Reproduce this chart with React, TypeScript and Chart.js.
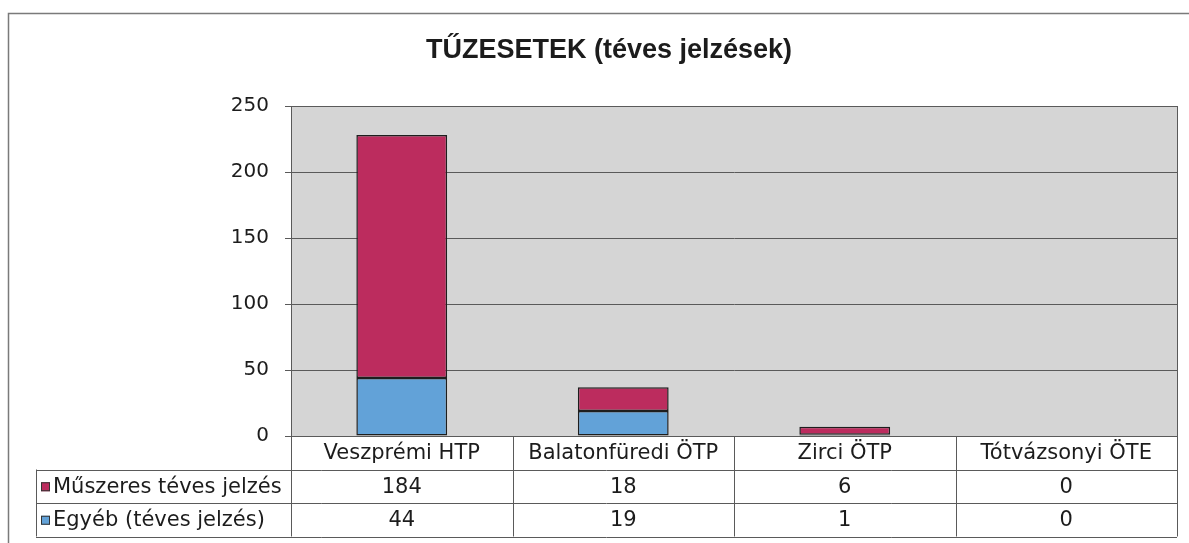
import React, { useEffect, useRef } from "react";
import { Chart, registerables } from "chart.js";

Chart.register(...registerables);

const categories = ["Veszprémi HTP", "Balatonfüredi ÖTP", "Zirci ÖTP", "Tótvázsonyi ÖTE"];
const muszeres = [184, 18, 6, 0];
const egyeb = [44, 19, 1, 0];
const seriesNames = ["Műszeres téves jelzés", "Egyéb (téves jelzés)"];
const yTicks = [0, 50, 100, 150, 200, 250];
const titleText = "TŰZESETEK (téves jelzések)";

const RED = "#BC2C5E";
const BLUE = "#62A2D8";
const EDGE = "#1e1e1e";
const LINE = "#5a5a5a";
const TEXT = "#1c1c1c";
const FONT = "DejaVu Sans";

export default function App() {
  const ref = useRef<HTMLCanvasElement | null>(null);

  useEffect(() => {
    document.body.style.margin = "0";
    const canvas = ref.current;
    if (!canvas) return;

    const framePlugin = {
      id: "frame",
      beforeDraw(chart: any) {
        const { ctx, chartArea: a } = chart;
        ctx.save();
        ctx.fillStyle = "#ffffff";
        ctx.fillRect(0, 0, chart.width, chart.height);
        ctx.fillStyle = "#d5d5d5";
        ctx.fillRect(a.left, a.top, a.right - a.left, a.bottom - a.top);
        ctx.restore();
      },
      afterDraw(chart: any) {
        const { ctx, chartArea: a } = chart;
        ctx.save();
        // outer border (top and left visible)
        ctx.strokeStyle = "#7a7a7a";
        ctx.lineWidth = 1.5;
        ctx.beginPath();
        ctx.moveTo(8.5, 543);
        ctx.lineTo(8.5, 13.5);
        ctx.lineTo(1189, 13.5);
        ctx.stroke();
        // plot border
        ctx.strokeStyle = LINE;
        ctx.lineWidth = 1;
        ctx.strokeRect(a.left + 0.5, a.top + 0.5, a.right - a.left, a.bottom - a.top);

        // title
        ctx.fillStyle = TEXT;
        ctx.font = `bold 27px "Liberation Sans"`;
        ctx.textAlign = "center";
        ctx.textBaseline = "middle";
        ctx.fillText(titleText, 609, 51);

        // data table
        const n = categories.length;
        const w = (a.right - a.left) / n;
        const rowH = 33.5;
        const rows = [a.bottom, a.bottom + rowH, a.bottom + 2 * rowH, a.bottom + 3 * rowH];
        const legendLeft = 36;
        ctx.strokeStyle = LINE;
        ctx.lineWidth = 1;
        ctx.beginPath();
        for (let r = 1; r < rows.length; r++) {
          const y = Math.round(rows[r]) + 0.5;
          ctx.moveTo(legendLeft, y);
          ctx.lineTo(a.right, y);
        }
        for (let i = 0; i <= n; i++) {
          const x = Math.round(a.left + i * w) + 0.5;
          ctx.moveTo(x, rows[0]);
          ctx.lineTo(x, rows[3]);
        }
        ctx.moveTo(legendLeft + 0.5, rows[1]);
        ctx.lineTo(legendLeft + 0.5, rows[3]);
        ctx.stroke();

        ctx.font = `21px "${FONT}"`;
        ctx.fillStyle = TEXT;
        ctx.textAlign = "center";
        ctx.textBaseline = "middle";
        const xs = chart.scales.x;
        for (let i = 0; i < n; i++) {
          const cx = xs.getPixelForValue(i);
          ctx.fillText(categories[i], cx, (rows[0] + rows[1]) / 2 + 1);
          ctx.fillText(String(muszeres[i]), cx, (rows[1] + rows[2]) / 2 + 1);
          ctx.fillText(String(egyeb[i]), cx, (rows[2] + rows[3]) / 2 + 1);
        }
        const colors = [RED, BLUE];
        ctx.textAlign = "left";
        for (let s = 0; s < 2; s++) {
          const cy = (rows[s + 1] + rows[s + 2]) / 2;
          ctx.fillStyle = colors[s];
          ctx.fillRect(41, cy - 4, 9, 9);
          ctx.strokeStyle = "#333";
          ctx.strokeRect(41.5, cy - 3.5, 8, 8);
          ctx.fillStyle = TEXT;
          ctx.fillText(seriesNames[s], 53, cy + 1);
        }
        ctx.restore();
      },
    };

    const chart = new Chart(canvas, {
      type: "bar",
      data: {
        labels: categories,
        datasets: [
          {
            label: seriesNames[1],
            data: egyeb,
            backgroundColor: BLUE,
            borderColor: EDGE,
            borderWidth: 1.5,
            borderSkipped: false,
            barPercentage: 0.41,
            categoryPercentage: 1,
          },
          {
            label: seriesNames[0],
            data: muszeres,
            backgroundColor: RED,
            borderColor: EDGE,
            borderWidth: 1.5,
            borderSkipped: false,
            barPercentage: 0.41,
            categoryPercentage: 1,
          },
        ],
      },
      options: {
        responsive: false,
        animation: false,
        layout: { padding: { top: 106, bottom: 107, left: 8, right: 12 } },
        plugins: {
          legend: { display: false },
          title: { display: false },
          tooltip: { enabled: false },
        },
        scales: {
          x: { display: false, stacked: true },
          y: {
            stacked: true,
            min: 0,
            max: 250,
            afterFit: (s: any) => {
              s.width = 283;
            },
            afterBuildTicks: (s: any) => {
              s.ticks = yTicks.map((v) => ({ value: v }));
            },
            ticks: {
              font: { family: FONT, size: 20 },
              color: TEXT,
              padding: 16,
            },
            grid: { color: LINE, lineWidth: 1, tickLength: 6, drawOnChartArea: true },
            border: { display: true, color: LINE },
          },
        },
      },
      plugins: [framePlugin],
    });

    return () => chart.destroy();
  }, []);

  return (
    <div style={{ position: "absolute", left: 0, top: 0, width: 1189, height: 543 }}>
      <canvas ref={ref} width={1189} height={543} style={{ display: "block" }} />
    </div>
  );
}
